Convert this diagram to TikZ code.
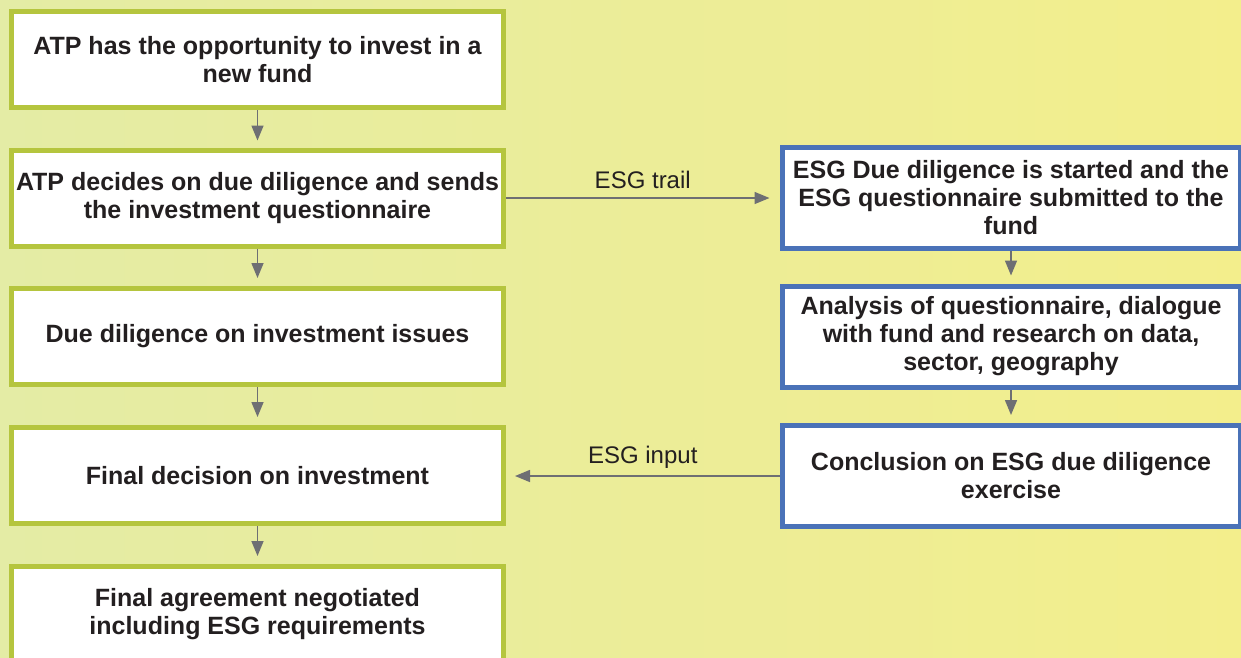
\documentclass[tikz,border=0pt]{standalone}
\usepackage{fontspec}
\setmainfont{Liberation Sans}
\usetikzlibrary{arrows.meta,positioning}

\definecolor{atpgreen}{RGB}{181,197,62}
\definecolor{esgblue}{RGB}{74,114,184}
\definecolor{flowgray}{RGB}{110,111,115}
\definecolor{textdark}{RGB}{35,31,32}
\definecolor{bgleft}{RGB}{228,236,165}
\definecolor{bgmid}{RGB}{238,239,152}
\definecolor{bgright}{RGB}{243,238,140}

\begin{document}
\begin{tikzpicture}[x=1pt,y=-1pt,
    stepbox/.style={draw,line width=5pt,fill=white,align=center,text=textdark,
        font=\fontsize{25}{28}\selectfont\bfseries},
    atpbox/.style={stepbox,draw=atpgreen,minimum width=492pt,minimum height=96pt},
    esgbox/.style={stepbox,draw=esgblue,minimum width=458pt,minimum height=101pt},
    flow/.style={draw=flowgray,line width=1.5pt,-{Triangle[width=12pt,length=15pt]}},
    flowlabel/.style={text=textdark,font=\fontsize{24}{28}\selectfont}
    ]
    \useasboundingbox (0,0) rectangle (1241,657);
    \clip (0,0) rectangle (1241,657);
    \shade[left color=bgleft,middle color=bgmid,right color=bgright] (0,0) rectangle (1241,657);

    % investment trail
    \node[atpbox] (opportunity) at (257.5,59.5) {ATP has the opportunity to invest in a\\new fund};
    \node[atpbox] (decides) at (257.5,198) {ATP decides on due diligence and sends\\the investment questionnaire};
    \node[atpbox] (duediligence) at (257.5,336.5) {Due diligence on investment issues};
    \node[atpbox] (decision) at (257.5,475.5) {Final decision on investment};
    \node[atpbox] (agreement) at (257.5,614.5) {Final agreement negotiated\\including ESG requirements};

    % ESG trail
    \node[esgbox] (esgstart) at (1011,198) {ESG Due diligence is started and the\\ESG questionnaire submitted to the\\fund};
    \node[esgbox] (analysis) at (1011,336.5) {Analysis of questionnaire, dialogue\\with fund and research on data,\\sector, geography};
    \node[esgbox] (conclusion) at (1011,476) {Conclusion on ESG due diligence\\exercise};

    \draw[flow,shorten >=7pt] (opportunity) -- (decides);
    \draw[flow,shorten >=8pt] (decides) -- (duediligence);
    \draw[flow,shorten >=8pt] (duediligence) -- (decision);
    \draw[flow,shorten >=8pt] (decision) -- (agreement);
    \draw[flow,shorten >=8pt] (esgstart) -- (analysis);
    \draw[flow,shorten >=8pt] (analysis) -- (conclusion);

    \draw[flow,shorten >=10pt] (decides.east) -- node[flowlabel,above=5pt] {ESG trail} (esgstart.west |- decides.east);
    \draw[flow,shorten >=9pt] (conclusion.west) -- node[flowlabel,above=3pt] {ESG input} (decision.east |- conclusion.west);
\end{tikzpicture}
\end{document}
